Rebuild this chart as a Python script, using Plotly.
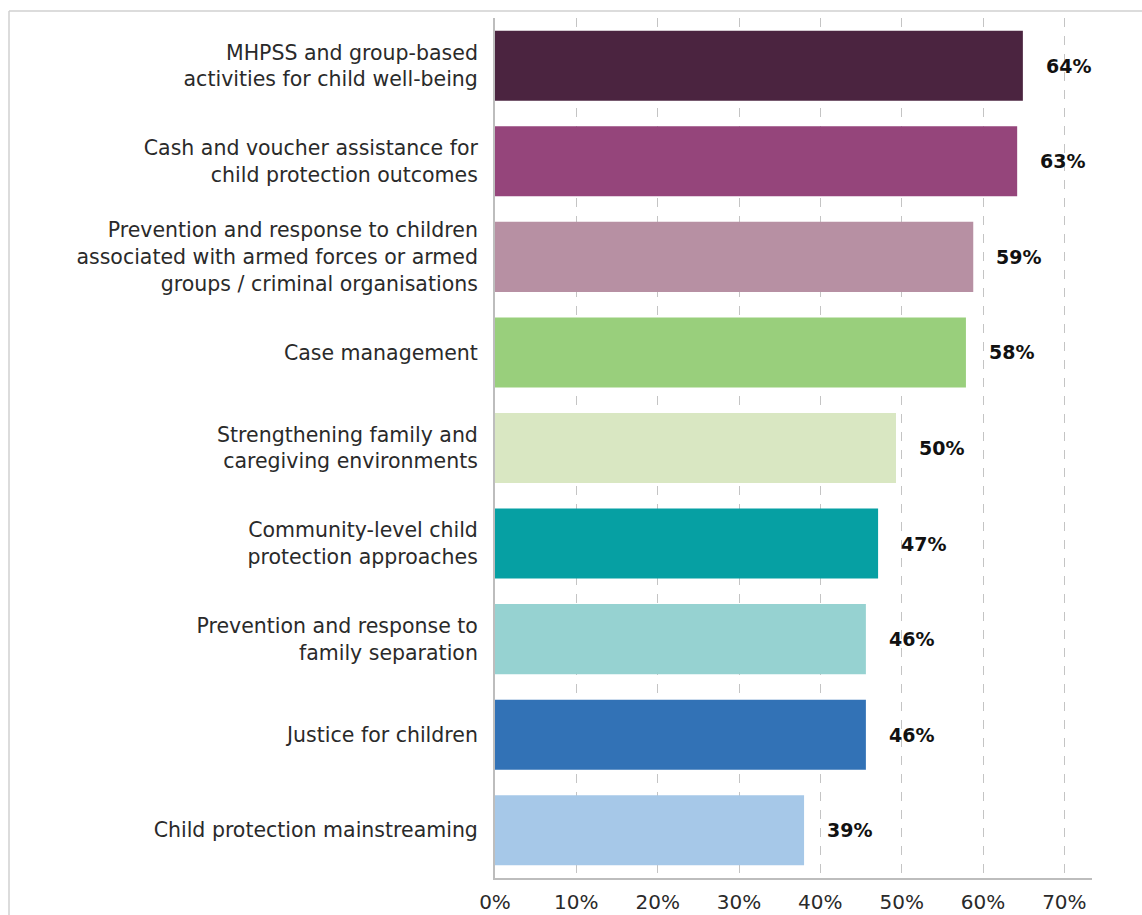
import plotly.graph_objects as go

categories = [
    "MHPSS and group-based<br>activities for child well-being",
    "Cash and voucher assistance for<br>child protection outcomes",
    "Prevention and response to children<br>associated with armed forces or armed<br>groups / criminal organisations",
    "Case management",
    "Strengthening family and<br>caregiving environments",
    "Community-level child<br>protection approaches",
    "Prevention and response to<br>family separation",
    "Justice for children",
    "Child protection mainstreaming",
]
values = [64.9, 64.2, 58.8, 57.9, 49.3, 47.1, 45.6, 45.6, 38.0]
value_labels = ["64%", "63%", "59%", "58%", "50%", "47%", "46%", "46%", "39%"]
colors = ["#4B2440", "#95457B", "#B790A3", "#99CF7C", "#D9E7C2",
          "#06A0A3", "#96D2D1", "#3272B6", "#A6C8E8"]
x_ticks = [0, 10, 20, 30, 40, 50, 60, 70]
x_tick_text = ["0%", "10%", "20%", "30%", "40%", "50%", "60%", "70%"]

FONT = "DejaVu Sans, Liberation Sans, Arial, sans-serif"

fig = go.Figure()
fig.add_trace(go.Bar(
    y=categories, x=values, orientation="h",
    marker=dict(color=colors, line=dict(width=0)),
    hoverinfo="skip",
))

for cat, v, lab in zip(categories, values, value_labels):
    fig.add_annotation(
        x=v, y=cat, text=lab, showarrow=False, xanchor="left", yanchor="middle",
        xshift=21, font=dict(family=FONT, size=19, color="#111111", weight="bold"),
    )

W, H = 1142, 915
L = 495
R = W - 1092
T = 18
B = H - 878
pw, ph = W - L - R, H - T - B


def px_x(p):
    return (p - L) / pw


def px_y(p):
    return (H - B - p) / ph


# outer frame (top and left border of the original image)
fig.add_shape(type="line", xref="paper", yref="paper",
              x0=px_x(9), x1=px_x(1150), y0=px_y(11), y1=px_y(11),
              line=dict(color="#D0D0D0", width=1.5))
fig.add_shape(type="line", xref="paper", yref="paper",
              x0=px_x(9), x1=px_x(9), y0=px_y(11), y1=px_y(930),
              line=dict(color="#D0D0D0", width=1.5))

fig.update_layout(
    width=W, height=H,
    margin=dict(l=L, r=R, t=T, b=B, pad=0, autoexpand=False),
    paper_bgcolor="white", plot_bgcolor="white",
    showlegend=False,
    bargap=0.267,
    font=dict(family=FONT, size=20, color="#2A2A2A"),
)
fig.update_xaxes(
    range=[0, 73.4], tickvals=x_ticks, ticktext=x_tick_text,
    showgrid=True, gridcolor="#C4C4C4", griddash="dash", gridwidth=1,
    showline=True, linecolor="#BDBDBD", linewidth=2,
    zeroline=False, ticks="", ticklabelstandoff=5, automargin=False,
    tickfont=dict(family=FONT, size=20, color="#2A2A2A"),
    fixedrange=True,
)
fig.update_yaxes(
    categoryorder="array", categoryarray=categories,
    autorange=False, range=[len(categories) - 0.5, -0.5],
    showline=True, linecolor="#BDBDBD", linewidth=2,
    showgrid=False, zeroline=False, ticks="", ticklabelstandoff=11, automargin=False,
    tickfont=dict(family=FONT, size=20.5, color="#2A2A2A"),
    fixedrange=True,
)

fig.write_html(
    "out.html",
    config={"displayModeBar": False},
    post_script="document.body.style.margin='0';document.body.style.overflow='hidden';",
)
